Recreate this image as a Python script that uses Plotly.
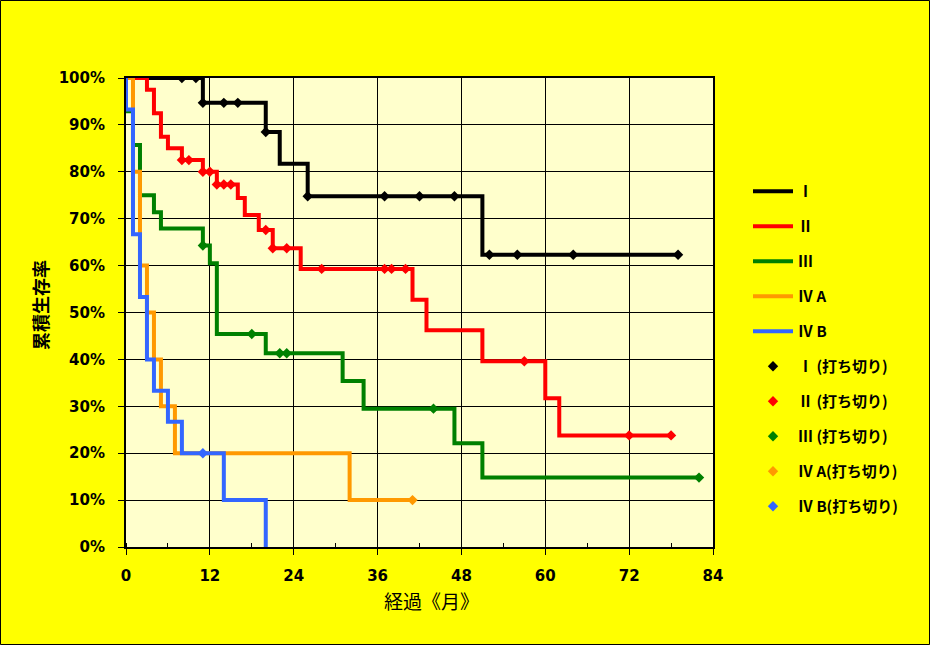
import plotly.graph_objects as go

# ---- data (months, survival %) ----
t_I = [0, 11, 20, 22, 26, 51, 79]
s_I = [100, 94.7, 88.5, 81.7, 74.8, 62.3, 62.3]
c_I = [8, 10, 11, 14, 16, 20, 26, 37, 42, 47, 52, 56, 64, 79]

t_II = [0, 3, 4, 5, 6, 8, 11, 13, 16, 17, 19, 21, 25, 41, 43, 51, 60, 62, 78]
s_II = [100, 97.5, 92.5, 87.5, 85.0, 82.5, 80.0, 77.3, 74.4, 70.8, 67.6, 63.7, 59.3, 52.7, 46.2, 39.6, 31.7, 23.8, 23.8]
c_II = [8, 9, 11, 12, 13, 14, 15, 20, 21, 23, 28, 37, 38, 40, 57, 72, 78]

t_III = [0, 0, 1, 2, 4, 5, 11, 12, 13, 20, 31, 34, 47, 51, 82]
s_III = [100, 92.9, 85.7, 75.0, 71.4, 67.9, 64.3, 60.5, 45.4, 41.3, 35.4, 29.5, 22.1, 14.8, 14.8]
c_III = [11, 18, 22, 23, 44, 82]

t_IVA = [0, 1, 2, 3, 4, 5, 7, 32, 41]
s_IVA = [100, 80, 60, 50, 40, 30, 20, 10, 10]
c_IVA = [41]

t_IVB = [0, 0, 1, 2, 3, 4, 6, 8, 14, 20]
s_IVB = [100, 93.3, 66.7, 53.3, 40.0, 33.3, 26.7, 20.0, 10.0, 0]
c_IVB = [11]

names = ["Ⅰ", "Ⅱ", "Ⅲ", "Ⅳ A", "Ⅳ B"]
cens_names = ["Ⅰ (打ち切り)", "Ⅱ (打ち切り)", "Ⅲ (打ち切り)", "Ⅳ A(打ち切り)", "Ⅳ B(打ち切り)"]
colors = ["#000000", "#FF0000", "#008000", "#FF9900", "#3366FF"]
x_ticks = [0, 12, 24, 36, 48, 60, 72, 84]
y_ticks = [0, 10, 20, 30, 40, 50, 60, 70, 80, 90, 100]
y_labels = ["%d%%" % v for v in y_ticks]

series = [(t_I, s_I, c_I), (t_II, s_II, c_II), (t_III, s_III, c_III),
          (t_IVA, s_IVA, c_IVA), (t_IVB, s_IVB, c_IVB)]


def step_value(ts, ss, t):
    v = ss[0]
    for ti, si in zip(ts, ss):
        if ti <= t:
            v = si
    return v


fig = go.Figure()
for i, (ts, ss, cs) in enumerate(series):
    fig.add_trace(go.Scatter(x=ts, y=ss, mode="lines", line=dict(color=colors[i], width=4, shape="hv"),
                             name=names[i], legendgroup="g%d" % i))
for i, (ts, ss, cs) in enumerate(series):
    fig.add_trace(go.Scatter(x=cs, y=[step_value(ts, ss, c) for c in cs], mode="markers",
                             marker=dict(symbol="diamond", size=8, color=colors[i]),
                             name=cens_names[i], legendgroup="c%d" % i))

L, R, T, B = 126, 217, 78, 98
W, H = 930, 645
pw, ph = W - L - R, H - T - B

fig.update_layout(
    width=W, height=H,
    margin=dict(l=L, r=R, t=T, b=B),
    paper_bgcolor="#FFFF00",
    plot_bgcolor="#FFFFCC",
    showlegend=True,
    legend=dict(x=(748 - L) / pw, y=(H - B - 175) / ph, xanchor="left", yanchor="top",
                bgcolor="rgba(0,0,0,0)", tracegroupgap=12.5,
                font=dict(family="Noto Sans CJK JP", size=15, color="black", weight="bold"),
                itemwidth=40),
    xaxis=dict(range=[0, 84], tickvals=x_ticks, showgrid=True, gridcolor="black", gridwidth=1,
               showline=True, linecolor="black", linewidth=2, mirror=True,
               ticks="outside", ticklen=6, tickcolor="black", zeroline=False,
               ticklabelstandoff=8,
               minor=dict(dtick=6, ticks="inside", ticklen=4, tickcolor="black", showgrid=False),
               tickfont=dict(family="DejaVu Sans", size=15, color="black", weight="bold")),
    yaxis=dict(range=[0, 100], tickvals=y_ticks, ticktext=y_labels, showgrid=True, gridcolor="black",
               gridwidth=1, showline=True, linecolor="black", linewidth=2, mirror=True,
               ticks="outside", ticklen=6, tickcolor="black", zeroline=False,
               ticklabelstandoff=10,
               tickfont=dict(family="DejaVu Sans", size=15, color="black", weight="bold")),
    annotations=[
        dict(text="累積生存率", xref="paper", yref="paper", x=(40 - L) / pw, y=(H - B - 305) / ph,
             showarrow=False, textangle=-90, xanchor="center", yanchor="middle",
             font=dict(family="Noto Sans CJK JP", size=18, color="black", weight="bold")),
        dict(text="経過《月》", xref="paper", yref="paper", x=(431 - L) / pw, y=(H - B - 600) / ph,
             showarrow=False, xanchor="center", yanchor="middle",
             font=dict(family="Noto Sans CJK JP", size=19, color="black")),
    ],
    shapes=[dict(type="rect", xref="paper", yref="paper",
                 x0=(0.5 - L) / pw, x1=(W - 0.5 - L) / pw,
                 y0=-(B - 0.5) / ph, y1=(H - B - 0.5) / ph,
                 line=dict(color="black", width=1), layer="above")],
)

fig.write_html("out.html")
